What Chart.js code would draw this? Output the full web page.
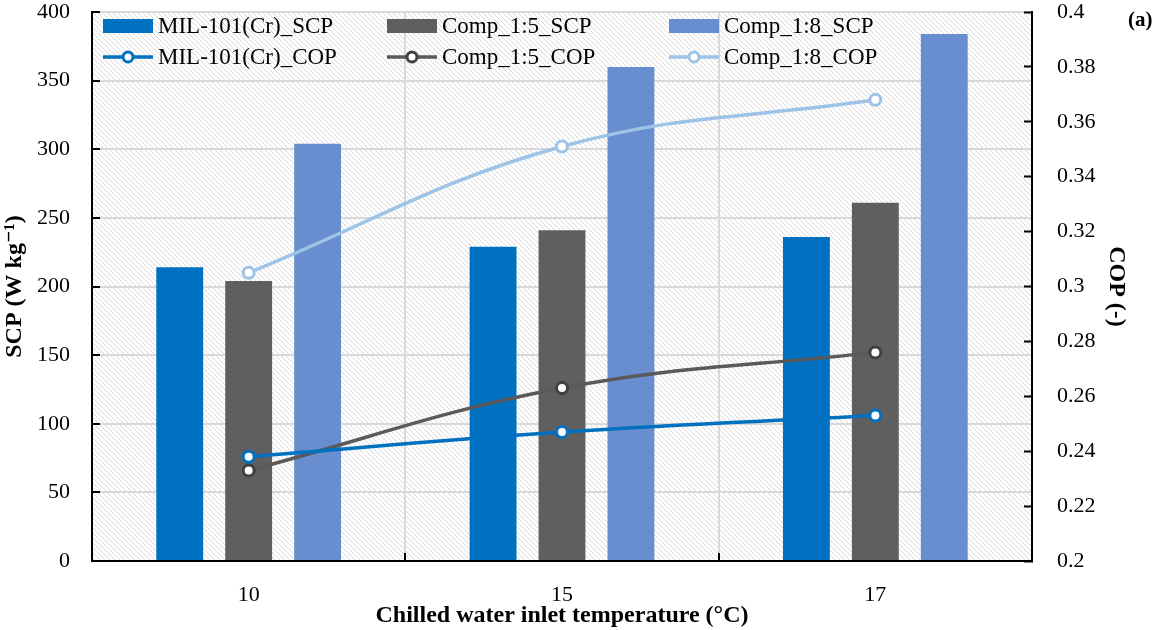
<!DOCTYPE html>
<html>
<head>
<meta charset="utf-8">
<script src="https://cdn.jsdelivr.net/npm/chart.js@4.4.0/dist/chart.umd.min.js"></script>
<style>
html, body { margin: 0; padding: 0; background: #fff; }
</style>
</head>
<body>
<canvas id="chart" width="1165" height="630"></canvas>
<script>
// Chilled water inlet temperature (°C)
const temps = ['10', '15', '17'];

// specific cooling power, W/kg (left axis)
const scpMil = [214, 229, 236];
const scpComp5 = [204, 241, 261];
const scpComp8 = [304, 360, 384];

// coefficient of performance (right axis)
const copMil = [0.238, 0.247, 0.253];
const copComp5 = [0.233, 0.263, 0.276];
const copComp8 = [0.305, 0.351, 0.368];

const serif = '"Liberation Serif", "DejaVu Serif", serif';
const gridColor = '#d9d9d9';

// diagonal hatch behind the plot area
function hatch() {
  const c = document.createElement('canvas');
  c.width = 10; c.height = 10;
  const g = c.getContext('2d');
  g.fillStyle = '#fff';
  g.fillRect(0, 0, 10, 10);
  g.strokeStyle = '#d8d8d8';
  g.lineWidth = 1;
  for (let k = -10; k <= 10; k += 5) {
    g.beginPath();
    g.moveTo(k, 0);
    g.lineTo(k + 10, 10);
    g.stroke();
  }
  return c;
}

const plotBg = {
  id: 'plotBg',
  beforeDraw(chart) {
    const { ctx, chartArea: a } = chart;
    ctx.save();
    ctx.fillStyle = ctx.createPattern(hatch(), 'repeat');
    ctx.fillRect(a.left, a.top, a.right - a.left, a.bottom - a.top);
    ctx.restore();
  }
};

// legend sits inside the plot: bars on the first row, lines on the second
const insideLegend = {
  id: 'insideLegend',
  afterDraw(chart) {
    const { ctx, chartArea: a } = chart;
    const colX = [11, 295, 577];
    const rowY = [14, 45];
    ctx.save();
    ctx.textBaseline = 'middle';
    ctx.font = '23px ' + serif;
    chart.data.datasets.forEach((ds, i) => {
      const x = a.left + colX[i % 3];
      const y = a.top + rowY[Math.floor(i / 3)];
      if (ds.type === 'line') {
        ctx.strokeStyle = ds.borderColor;
        ctx.lineWidth = 3.5;
        ctx.beginPath();
        ctx.moveTo(x, y);
        ctx.lineTo(x + 50, y);
        ctx.stroke();
        ctx.beginPath();
        ctx.arc(x + 25, y, 5, 0, Math.PI * 2);
        ctx.fillStyle = '#fff';
        ctx.fill();
        ctx.lineWidth = 3;
        ctx.strokeStyle = ds.pointBorderColor;
        ctx.stroke();
      } else {
        ctx.fillStyle = ds.backgroundColor;
        ctx.fillRect(x, y - 7, 50, 14);
      }
      ctx.fillStyle = '#000';
      ctx.fillText(ds.label, x + 55, y + 1);
    });
    ctx.font = 'bold 21px ' + serif;
    ctx.fillText('(a)', 1128, 21);
    ctx.restore();
  }
};

function barSet(label, data, color) {
  return { label, data, backgroundColor: color, borderWidth: 0, yAxisID: 'y', order: 2 };
}
function lineSet(label, data, color, pointColor) {
  return {
    type: 'line', label, data, yAxisID: 'y1', order: 1,
    borderColor: color, borderWidth: 3.5, tension: 0.4,
    pointRadius: 5.5, pointBorderWidth: 3, pointBackgroundColor: '#fff',
    pointBorderColor: pointColor || color
  };
}

const tickFont = { family: serif, size: 22 };
const titleFont = { family: serif, size: 24, weight: 'bold' };

// keep the plot area fixed: no extra room for the first/last tick label
function fixY(width) {
  return s => { s.width = width; s.paddingTop = 0; s.paddingBottom = 0; };
}

new Chart(document.getElementById('chart'), {
  type: 'bar',
  data: {
    labels: temps,
    datasets: [
      barSet('MIL-101(Cr)_SCP', scpMil, '#0070c0'),
      barSet('Comp_1:5_SCP', scpComp5, '#5f5f5f'),
      barSet('Comp_1:8_SCP', scpComp8, '#698ed0'),
      lineSet('MIL-101(Cr)_COP', copMil, '#0070c0'),
      lineSet('Comp_1:5_COP', copComp5, '#5a5a5a', '#404040'),
      lineSet('Comp_1:8_COP', copComp8, '#9dc3e6')
    ]
  },
  options: {
    responsive: false,
    animation: false,
    devicePixelRatio: 1,
    layout: { padding: { top: 12, left: 0, right: 0, bottom: 0 } },
    datasets: { bar: { categoryPercentage: 0.66, barPercentage: 0.68 } },
    plugins: { legend: { display: false }, tooltip: { enabled: false } },
    scales: {
      x: {
        offset: true,
        grid: { offset: true, color: gridColor, lineWidth: 2, tickColor: '#000', tickWidth: 2, tickLength: -8 },
        border: { color: '#000', width: 2 },
        ticks: { font: tickFont, color: '#000', padding: 29 },
        title: { display: true, text: 'Chilled water inlet temperature (°C)', font: titleFont, color: '#000', padding: 0 },
        afterFit(s) { s.height = 69; s.paddingLeft = 0; s.paddingRight = 0; }
      },
      y: {
        position: 'left',
        min: 0, max: 400,
        grid: { color: gridColor, lineWidth: 2, tickColor: '#000', tickWidth: 2, tickLength: -8 },
        border: { color: '#000', width: 2 },
        ticks: { stepSize: 50, font: tickFont, color: '#000', padding: 30 },
        title: { display: true, text: 'SCP (W kg⁻¹)', font: titleFont, color: '#000', padding: { top: 0, bottom: 0 } },
        afterFit: fixY(92)
      },
      y1: {
        position: 'right',
        min: 0.2, max: 0.4,
        grid: { drawOnChartArea: false, tickColor: '#000', tickWidth: 2, tickLength: -8 },
        border: { color: '#000', width: 2 },
        ticks: {
          stepSize: 0.02, font: tickFont, color: '#000', padding: 33,
          callback: v => String(Number(v.toFixed(2)))
        },
        title: { display: true, text: 'COP (-)', font: titleFont, color: '#000', padding: { top: 34, bottom: 0 } },
        afterFit: fixY(133)
      }
    }
  },
  plugins: [plotBg, insideLegend]
});
</script>
</body>
</html>
